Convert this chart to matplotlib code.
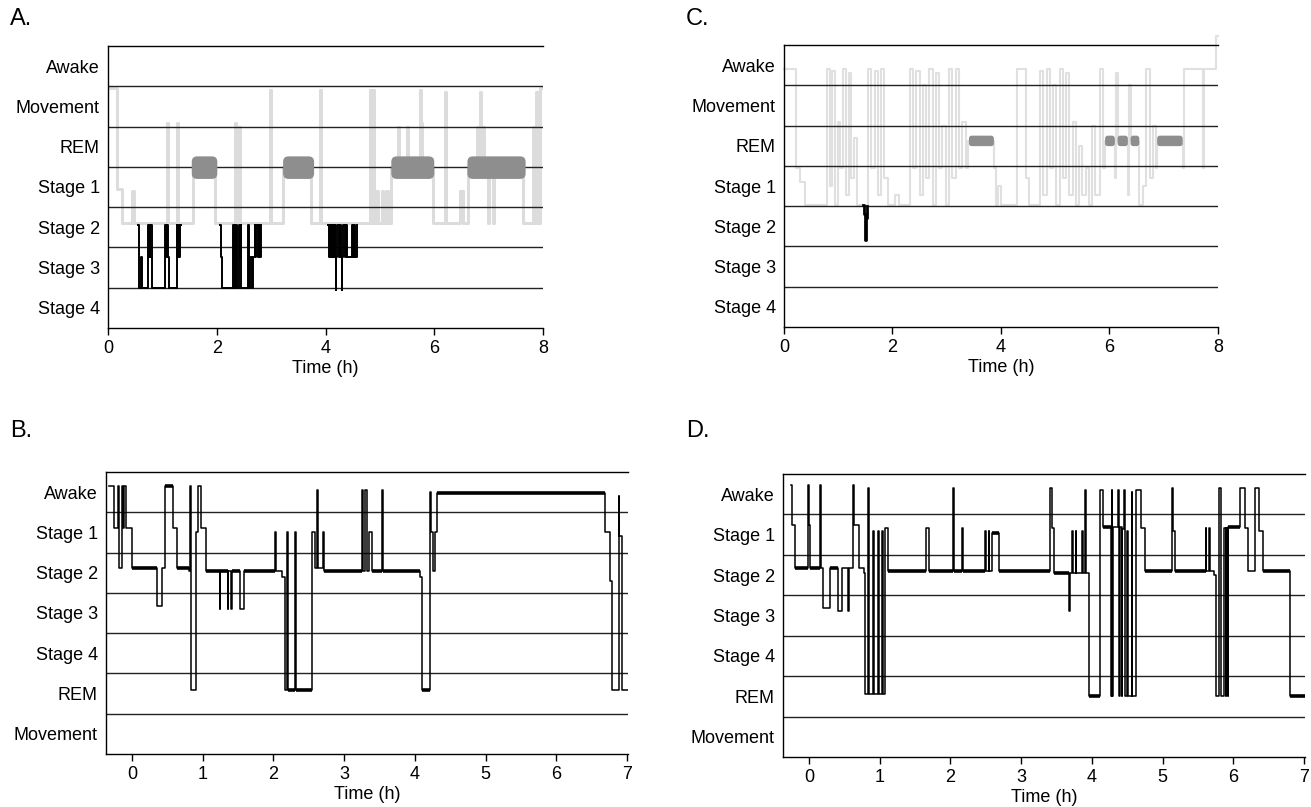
import matplotlib.pyplot as plt
from matplotlib.patches import FancyBboxPatch
import numpy as np

plt.rcParams['font.family'] = ['Liberation Sans', 'DejaVu Sans']

# stage labels, top to bottom
labels_ac = ['Awake', 'Movement', 'REM', 'Stage 1', 'Stage 2', 'Stage 3', 'Stage 4']
labels_bd = ['Awake', 'Stage 1', 'Stage 2', 'Stage 3', 'Stage 4', 'REM', 'Movement']

# ---- Panel A: grey whole-night trace (time h, depth in band units) ----
a_grey_t = [0.03, 0.16, 0.25, 0.44, 0.47, 1.08, 1.10, 1.26, 1.28, 1.57, 1.97, 2.33, 2.35,
            2.40, 2.43, 2.98, 3.00, 3.22, 3.74, 3.90, 3.92, 4.82, 4.84, 4.88, 4.90, 4.93,
            4.97, 5.03, 5.06, 5.12, 5.14, 5.21, 5.34, 5.36, 5.49, 5.51, 5.73, 5.75, 5.76,
            5.78, 5.98, 6.19, 6.21, 6.47, 6.53, 6.62, 6.78, 6.80, 6.84, 6.86, 6.90, 6.92,
            6.99, 7.01, 7.08, 7.10, 7.63, 7.82, 7.84, 7.88, 7.90, 7.94, 8.00]
a_grey_v = [1.05, 3.55, 4.40, 3.60, 4.40, 1.90, 4.40, 1.90, 4.40, 3.00, 4.40, 1.90, 4.40,
            2.00, 4.40, 1.10, 4.40, 3.00, 4.40, 1.10, 4.40, 1.10, 4.40, 1.10, 4.40, 3.60,
            4.40, 3.60, 4.40, 3.60, 4.40, 3.00, 2.00, 3.00, 2.00, 3.00, 1.10, 3.00, 1.90,
            3.00, 4.40, 1.15, 4.40, 3.60, 4.40, 3.00, 2.00, 3.00, 1.15, 3.00, 2.00, 3.00,
            4.40, 3.00, 4.40, 3.00, 4.40, 2.00, 4.40, 1.15, 4.40, 1.05, 1.05]

# Panel A: black slow-wave-sleep episodes
a_sws1_t = [0.55, 0.57, 0.60, 0.62, 0.74, 0.75, 0.76, 0.77, 0.78, 0.80, 0.81, 1.05, 1.07,
            1.08, 1.10, 1.12, 1.26, 1.27, 1.28, 1.29, 1.30, 1.31, 1.33, 1.35]
a_sws1_v = [4.44, 6.00, 5.23, 6.00, 4.44, 5.23, 4.44, 5.23, 4.44, 5.23, 6.00, 4.44, 5.23,
            4.44, 5.23, 6.00, 4.44, 5.23, 4.44, 5.23, 4.44, 5.23, 4.44, 4.44]
a_sws2_t = [2.06, 2.07, 2.10, 2.30, 2.31, 2.32, 2.33, 2.34, 2.36, 2.37, 2.40, 2.42, 2.44,
            2.45, 2.58, 2.60, 2.62, 2.64, 2.66, 2.70, 2.71, 2.73, 2.75, 2.77, 2.79, 2.82]
a_sws2_v = [4.44, 5.23, 6.00, 4.44, 6.00, 4.44, 5.23, 6.00, 4.44, 6.00, 4.44, 5.23, 4.44,
            6.00, 4.44, 6.00, 5.23, 6.00, 5.23, 4.44, 5.23, 4.44, 5.23, 4.44, 5.23, 4.44]
a_sws3_t = [4.05, 4.06, 4.08, 4.09, 4.11, 4.12, 4.14, 4.15, 4.17, 4.18, 4.19, 4.20, 4.22,
            4.24, 4.26, 4.28, 4.30, 4.31, 4.33, 4.35, 4.37, 4.40, 4.48, 4.50, 4.53, 4.55, 4.57]
a_sws3_v = [4.44, 5.23, 4.44, 5.23, 4.44, 5.23, 4.44, 5.23, 4.44, 5.23, 6.05, 5.23, 4.44,
            5.23, 4.44, 5.23, 6.05, 5.23, 4.44, 5.23, 4.44, 5.23, 4.44, 5.23, 4.44, 5.23, 4.44]

# Panel A: REM periods (start, end) in hours
a_rem_start = [1.54, 3.22, 5.21, 6.61]
a_rem_end = [2.01, 3.79, 6.00, 7.68]

# ---- Panel C ----
c_grey_t = [0.00, 0.23, 0.29, 0.39, 0.79, 0.84, 0.89, 0.94, 0.99, 1.04, 1.09, 1.14, 1.19,
            1.24, 1.29, 1.34, 1.55, 1.61, 1.67, 1.73, 1.79, 1.85, 1.91, 2.05, 2.12, 2.32,
            2.38, 2.44, 2.50, 2.56, 2.62, 2.68, 2.74, 2.80, 2.86, 2.92, 2.98, 3.04, 3.10,
            3.17, 3.23, 3.29, 3.35, 3.40, 3.87, 3.90, 3.95, 4.00, 4.29, 4.47, 4.52, 4.72,
            4.78, 4.84, 4.90, 4.96, 5.02, 5.08, 5.14, 5.20, 5.26, 5.32, 5.38, 5.44, 5.50,
            5.56, 5.62, 5.68, 5.74, 5.82, 5.88, 5.92, 6.10, 6.12, 6.15, 6.34, 6.36, 6.39,
            6.55, 6.62, 6.68, 6.74, 6.80, 6.85, 6.88, 7.35, 7.37, 7.73, 7.75, 7.97, 8.00]
c_grey_v = [0.60, 3.05, 3.40, 3.97, 0.60, 3.50, 0.65, 3.97, 1.90, 3.05, 0.60, 3.72, 0.70,
            3.30, 2.30, 3.97, 0.60, 3.05, 0.65, 3.72, 0.60, 3.30, 3.97, 3.72, 3.97, 0.60,
            3.05, 0.65, 3.72, 1.00, 3.30, 0.60, 3.97, 0.70, 3.05, 2.00, 3.97, 0.60, 3.30,
            0.60, 3.05, 1.90, 3.05, 2.38, 3.05, 3.97, 3.50, 3.97, 0.60, 3.30, 3.97, 0.65,
            3.72, 0.60, 3.05, 1.00, 3.97, 0.60, 3.30, 0.70, 3.72, 1.90, 3.97, 2.50, 3.72,
            3.05, 3.97, 2.00, 3.72, 0.60, 3.05, 2.38, 3.30, 0.70, 2.38, 3.72, 1.00, 2.38,
            3.97, 3.50, 0.60, 3.30, 2.00, 3.05, 2.38, 3.05, 0.60, 3.05, 0.60, -0.22, -0.22]
c_sws_t = [1.46, 1.47, 1.49, 1.50, 1.52, 1.53]
c_sws_v = [3.97, 4.20, 4.40, 4.85, 4.30, 4.00]
c_rem_start = [3.41, 5.92, 6.15, 6.39, 6.88]
c_rem_end = [3.87, 6.10, 6.34, 6.55, 7.35]

# ---- Panel B ----
b_t = [-0.33, -0.26, -0.20, -0.18, -0.14, -0.13, -0.11, -0.09, 0.00, 0.35, 0.42, 0.47,
       0.58, 0.63, 0.80, 0.82, 0.83, 0.91, 0.93, 0.97, 1.05, 1.24, 1.25, 1.35, 1.36, 1.40,
       1.41, 1.53, 1.58, 2.02, 2.03, 2.12, 2.16, 2.19, 2.20, 2.31, 2.32, 2.54, 2.59, 2.62,
       2.63, 2.70, 2.72, 3.25, 3.27, 3.30, 3.32, 3.35, 3.40, 3.53, 3.55, 4.07, 4.10, 4.22,
       4.23, 4.25, 4.28, 4.31, 6.69, 6.76, 6.79, 6.88, 6.89, 6.93, 7.02]
b_v = [0.35, 1.38, 0.35, 2.38, 0.35, 1.38, 0.35, 1.38, 2.38, 3.33, 2.38, 0.35,
       1.38, 2.38, 2.45, 0.35, 5.40, 1.50, 0.35, 1.38, 2.45, 3.41, 2.45, 3.41, 2.45, 3.41,
       2.45, 3.41, 2.45, 1.50, 2.45, 2.60, 5.40, 1.50, 5.40, 1.50, 5.40, 1.50, 2.38, 0.45,
       2.38, 1.50, 2.45, 0.45, 2.45, 0.45, 2.45, 1.50, 2.45, 0.45, 2.45, 2.60, 5.40, 0.50,
       1.50, 2.45, 1.50, 0.53, 1.50, 2.70, 5.40, 0.60, 1.60, 5.40, 5.40]

# ---- Panel D ----
d_t = [-0.25, -0.245, -0.20, -0.01, 0.00, 0.015, 0.155, 0.165, 0.20, 0.30, 0.415, 0.46,
       0.556, 0.57, 0.627, 0.64, 0.70, 0.77, 0.79, 0.84, 0.85, 0.91, 0.92, 0.98, 0.99,
       1.03, 1.04, 1.07, 1.11, 1.66, 1.69, 2.04, 2.05, 2.16, 2.17, 2.49, 2.50, 2.54, 2.55,
       2.58, 2.68, 3.41, 3.43, 3.46, 3.68, 3.69, 3.72, 3.73, 3.77, 3.78, 3.86, 3.87, 3.90,
       3.91, 3.96, 4.11, 4.15, 4.27, 4.28, 4.29, 4.30, 4.37, 4.38, 4.40, 4.42, 4.43, 4.46,
       4.47, 4.50, 4.51, 4.56, 4.57, 4.63, 4.70, 4.75, 5.13, 5.15, 5.17, 5.61, 5.62, 5.66,
       5.67, 5.73, 5.75, 5.80, 5.82, 5.87, 5.89, 5.90, 5.92, 5.93, 6.09, 6.16, 6.21, 6.30,
       6.37, 6.42, 6.80, 7.02]
d_v = [0.28, 1.27, 2.33, 0.28, 1.27, 2.33, 0.28, 2.33, 3.32, 2.33, 3.40, 2.33,
       3.40, 2.33, 0.28, 1.27, 2.33, 2.45, 5.45, 0.35, 5.45, 1.40, 5.45, 1.40, 5.45,
       1.40, 5.45, 1.33, 2.40, 1.33, 2.40, 0.35, 2.40, 1.33, 2.40, 1.40, 2.40, 1.40, 2.40,
       1.45, 2.40, 0.35, 1.33, 2.45, 3.40, 2.45, 1.40, 2.45, 1.40, 2.45, 1.40, 2.45, 0.40,
       2.45, 5.50, 0.40, 1.30, 5.50, 0.40, 5.50, 1.30, 0.40, 5.50, 1.30, 5.50, 1.35, 0.40,
       5.50, 1.40, 5.50, 0.45, 5.50, 0.40, 1.33, 2.40, 0.35, 1.40, 2.40, 1.33, 2.40, 1.33,
       2.40, 2.50, 5.50, 0.35, 5.50, 1.33, 5.50, 1.33, 5.50, 1.30, 0.35, 1.33, 2.40, 0.35,
       1.40, 2.40, 5.50, 5.50]


def setup(ax, labels, xlim, xticks):
    ax.set_ylim(7, 0)
    ax.set_xlim(*xlim)
    ax.set_yticks(np.arange(7) + 0.5, labels)
    ax.set_xticks(xticks)
    ax.tick_params(axis='y', length=0, pad=6, labelsize=13)
    ax.tick_params(axis='x', direction='out', length=5, width=1, labelsize=13)
    for y in range(1, 7):
        ax.axhline(y, color='#222222', lw=1.0, zorder=2.5)
    ax.spines['right'].set_visible(False)
    for s in ['left', 'top', 'bottom']:
        ax.spines[s].set_linewidth(1.0)
    ax.set_xlabel('Time (h)', fontsize=13, labelpad=2)


def hypnogram(ax, t, v, thin=1.1, thick=2.6, min_run=0.1):
    t = np.asarray(t)
    v = np.asarray(v)
    ax.step(t, v, where='post', color='black', lw=thin, zorder=4)
    dur = np.diff(t)
    long = dur >= min_run
    ax.hlines(v[:-1][long], t[:-1][long], t[1:][long], color='black', lw=thick, zorder=4)


def rem_bars(ax, starts, ends, yc, h, r):
    for s, e in zip(starts, ends):
        ax.add_patch(FancyBboxPatch((s, yc - h / 2), e - s, h,
                                    boxstyle=f'round,pad=0,rounding_size={r}',
                                    mutation_aspect=1.35, fc='#8e8e8e', ec='none', zorder=3))


fig = plt.figure(figsize=(13.11, 8.07), dpi=100)
axA = fig.add_axes([0.0824, 0.5936, 0.3318, 0.3494])
axC = fig.add_axes([0.5980, 0.5948, 0.3310, 0.3494])
axB = fig.add_axes([0.0809, 0.0657, 0.3982, 0.3494])
axD = fig.add_axes([0.5973, 0.0620, 0.3982, 0.3507])

# A
setup(axA, labels_ac, (0, 8), [0, 2, 4, 6, 8])
axA.step(a_grey_t, a_grey_v, where='post', color='#dcdcdc', lw=2.2, zorder=2)
for tt, vv in [(a_sws1_t, a_sws1_v), (a_sws2_t, a_sws2_v), (a_sws3_t, a_sws3_v)]:
    axA.step(tt, vv, where='post', color='black', lw=1.4, zorder=4)
rem_bars(axA, a_rem_start, a_rem_end, 3.02, 0.56, 0.1)

# C
setup(axC, labels_ac, (0, 8), [0, 2, 4, 6, 8])
axC.step(c_grey_t, c_grey_v, where='post', color='#e0e0e0', lw=1.5, zorder=2, clip_on=False)
axC.step(c_sws_t, c_sws_v, where='post', color='black', lw=2.0, zorder=4)
rem_bars(axC, c_rem_start, c_rem_end, 2.38, 0.26, 0.05)

# B
setup(axB, labels_bd, (-0.368, 7.015), range(8))
hypnogram(axB, b_t, b_v)

# D
setup(axD, labels_bd, (-0.368, 7.015), range(8))
hypnogram(axD, d_t, d_v)

for x, y, s in [(10, 19, 'A.'), (686, 19, 'C.'), (10, 431, 'B.'), (686, 431, 'D.')]:
    fig.text(x / 1311, 1 - y / 807, s, fontsize=17, va='center', ha='left')

fig.savefig('out.png', dpi=100)
